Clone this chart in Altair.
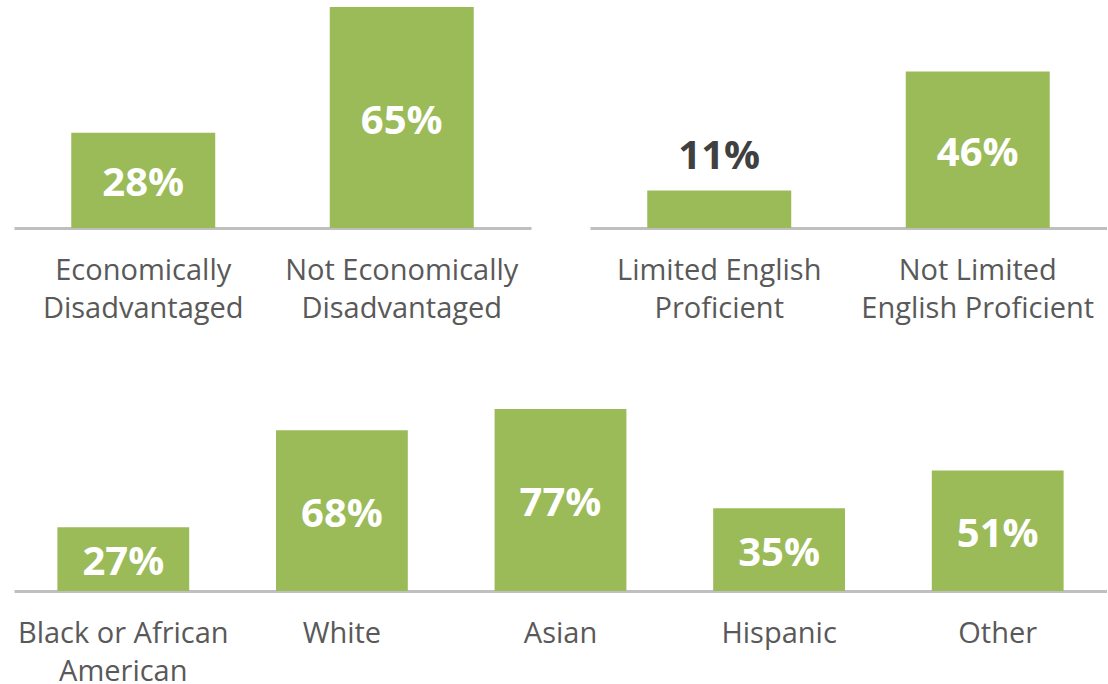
import altair as alt
import pandas as pd

# Data
econ_cats = ["Economically|Disadvantaged", "Not Economically|Disadvantaged"]
econ_vals = [28, 65]
lep_cats = ["Limited English|Proficient", "Not Limited|English Proficient"]
lep_vals = [11, 46]
race_cats = ["Black or African|American", "White", "Asian", "Hispanic", "Other"]
race_vals = [27, 68, 77, 35, 51]

GREEN = "#9BBB59"
FONT = "Open Sans"


def panel(cats, vals, width, height, ymax, pad_inner):
    df = pd.DataFrame({"cat": cats, "value": vals})
    x = alt.X(
        "cat:N",
        sort=None,
        title=None,
        scale=alt.Scale(paddingInner=pad_inner, paddingOuter=pad_inner / 2),
        axis=alt.Axis(
            labelAngle=0,
            ticks=False,
            domain=True,
            domainColor="#BFBFBF",
            domainWidth=3,
            labelFont=FONT,
            labelFontSize=29,
            labelColor="#595959",
            labelPadding=28,
            labelLineHeight=38,
            labelLimit=600,
            labelExpr="split(datum.label, '|')",
        ),
    )
    yscale = alt.Scale(domain=[0, ymax], nice=False, zero=True)
    base = alt.Chart(df).encode(x=x)
    bars = base.mark_bar(color=GREEN).encode(
        y=alt.Y("value:Q", scale=yscale, axis=None)
    )
    inside = (
        base.transform_filter("datum.value >= 15")
        .transform_calculate(mid="datum.value / 2", lbl="datum.value + '%'")
        .mark_text(
            font=FONT, fontSize=40, fontWeight="bold", color="white",
            baseline="middle", dy=4,
        )
        .encode(y=alt.Y("mid:Q", scale=yscale, axis=None), text="lbl:N")
    )
    outside = (
        base.transform_filter("datum.value < 15")
        .transform_calculate(lbl="datum.value + '%'")
        .mark_text(
            font=FONT, fontSize=40, fontWeight="bold", color="#404040",
            baseline="middle", dy=-34,
        )
        .encode(y=alt.Y("value:Q", scale=yscale, axis=None), text="lbl:N")
    )
    return alt.layer(bars, inside, outside).properties(width=width, height=height)


p1 = panel(econ_cats, econ_vals, 517, 221, 65, 0.443)
p2 = panel(lep_cats, lep_vals, 517, 221, 65, 0.443)
p3 = panel(race_cats, race_vals, 1093, 182, 77, 0.397)

top = alt.hconcat(p1, p2, spacing=59, bounds="flush")
chart = (
    alt.vconcat(top, p3, spacing=402, bounds="flush")
    .properties(padding={"left": 14, "top": 7, "right": 0, "bottom": 0})
    .configure_view(stroke=None)
    .configure_axis(grid=False)
)

chart.save("out.html", embed_options={"renderer": "svg", "actions": False})
